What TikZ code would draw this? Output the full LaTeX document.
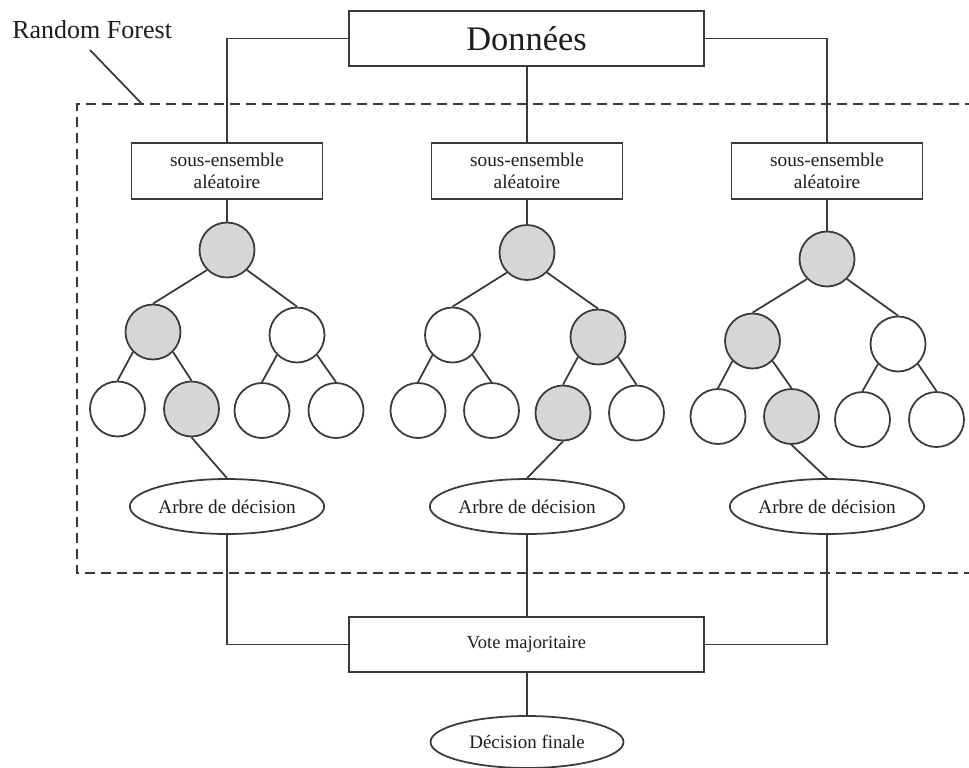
\documentclass[tikz,border=0pt]{standalone}
\usepackage{fontspec}
\setmainfont{Liberation Serif}
\usetikzlibrary{shapes.geometric}
\definecolor{ln}{HTML}{3A3A3A}
\definecolor{nodegray}{HTML}{D6D6D6}
\definecolor{txt}{HTML}{1E1E1E}

\begin{document}
\begin{tikzpicture}[x=0.02cm,y=-0.02cm,
  line/.style={draw=ln,line width=1pt},
  box/.style={line, rectangle, inner sep=0pt, text=txt, align=center},
  oval/.style={line, ellipse, inner sep=0pt, minimum width=3.84cm,
    minimum height=1.1cm, text=txt, font=\fontsize{11}{12}\selectfont},
  nodew/.style={line, circle, minimum size=1.1cm, inner sep=0pt, fill=white},
  nodeg/.style={nodew, fill=nodegray},
  frame/.style={draw=ln, line width=1.1pt, dash pattern=on 5.7pt off 3.4pt}
]
\useasboundingbox (0,0) rectangle (969,767);
\fill[white] (0,0) rectangle (969,767);

% dashed frame of the forest
\draw[frame] (975,104) -- (77,104) -- (77,573) -- (975,573);

% label of the frame
\node[anchor=base west, inner sep=0pt, text=txt, font=\fontsize{14.8}{16}\selectfont] (rf) at (12,39) {Random Forest};
\coordinate (rfa) at (90,50);
\coordinate (rfb) at (142,104);
\draw[line] (rfa) -- (rfb);

% data box
\node[box, minimum width=7.1cm, minimum height=1.1cm, font=\fontsize{19.6}{22}\selectfont] (data) at (526.5,38.5) {Données};

% random subsets
\foreach \n/\x in {s1/227, s2/527, s3/827}{
  \node[box, minimum width=3.82cm, minimum height=1.12cm, font=\fontsize{11}{12.5}\selectfont] (\n) at (\x,171) {sous-ensemble\\aléatoire};
}

% tree 1
\node[nodeg] (t1r)  at (227,250) {};
\node[nodeg] (t1a)  at (153,332) {};
\node[nodew] (t1b)  at (297,335) {};
\node[nodew] (t1aa) at (117.5,409) {};
\node[nodeg] (t1ab) at (191.5,409) {};
\node[nodew] (t1ba) at (262,410.5) {};
\node[nodew] (t1bb) at (336,410.5) {};

% tree 2
\node[nodeg] (t2r)  at (527,252.5) {};
\node[nodew] (t2a)  at (452.5,335) {};
\node[nodeg] (t2b)  at (598,337) {};
\node[nodew] (t2aa) at (418,410.5) {};
\node[nodew] (t2ab) at (491.5,410.5) {};
\node[nodeg] (t2ba) at (563,413) {};
\node[nodew] (t2bb) at (636.5,413) {};

% tree 3
\node[nodeg] (t3r)  at (827,259) {};
\node[nodeg] (t3a)  at (752.5,341) {};
\node[nodew] (t3b)  at (898,344) {};
\node[nodew] (t3aa) at (718,416.5) {};
\node[nodeg] (t3ab) at (791.5,416.5) {};
\node[nodew] (t3ba) at (862.5,419.5) {};
\node[nodew] (t3bb) at (936.5,419.5) {};

% decision trees
\node[oval] (e1) at (227,506.5) {Arbre de décision};
\node[oval] (e2) at (527,506.5) {Arbre de décision};
\node[oval] (e3) at (827,506.5) {Arbre de décision};

% vote and final decision
\node[box, minimum width=7.1cm, minimum height=1.1cm, font=\fontsize{10.5}{12}\selectfont] (vote) at (526.5,644.5) {Vote majoritaire};
\node[oval, minimum width=3.86cm, minimum height=1.04cm, font=\fontsize{10.8}{12}\selectfont] (fin) at (527,742) {Décision finale};

% connectors from the data box
\draw[line] (data.west) -| (s1.north);
\draw[line] (data.east) -| (s3.north);
\draw[line, line width=1.4pt] (data.south -| s2.north) -- (s2.north);

% subsets to tree roots, and the branches of each tree
\foreach \i in {1,2,3}{
  \draw[line] (s\i.south) -- (t\i r.north);
  \draw[line] (t\i r.south west) -- (t\i a.north);
  \draw[line] (t\i r.south east) -- (t\i b.north);
  \draw[line] (t\i a.south west) -- (t\i aa.north);
  \draw[line] (t\i a.south east) -- (t\i ab.north);
  \draw[line] (t\i b.south west) -- (t\i ba.north);
  \draw[line] (t\i b.south east) -- (t\i bb.north);
}

% leaves to decision trees
\draw[line] (t1ab.south) -- (e1.north);
\draw[line] (t2ba.south) -- (e2.north);
\draw[line] (t3ab.south) -- (e3.north);

% decision trees to the vote
\draw[line] (e1.south) |- (vote.west);
\draw[line] (e2.south) -- (e2.south |- vote.north);
\draw[line] (e3.south) |- (vote.east);
\draw[line] (vote.south -| fin.north) -- (fin.north);
\end{tikzpicture}
\end{document}
